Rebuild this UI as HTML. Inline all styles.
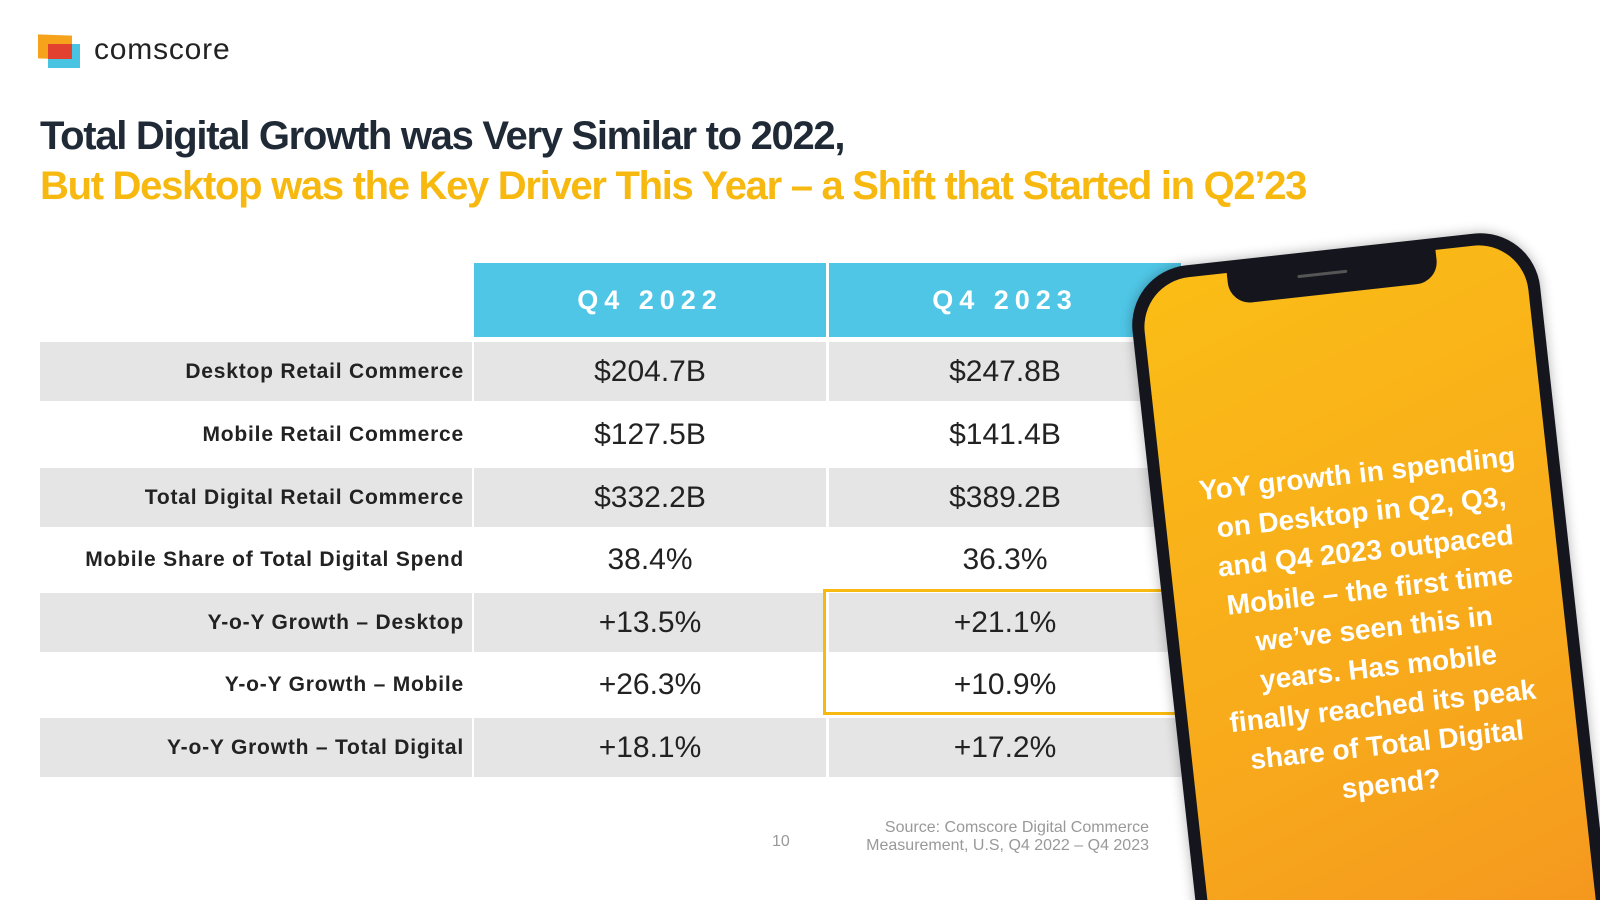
<!DOCTYPE html>
<html><head><meta charset="utf-8"><style>
html,body{margin:0;width:1600px;height:900px;overflow:hidden}
body{position:relative;background:#fff;font-family:"Liberation Sans",Arial,sans-serif}
#wrap{position:absolute;left:0;top:0;width:1600px;height:900px;overflow:hidden}
.a{position:absolute}
.t{font-weight:bold;font-size:40px;letter-spacing:-1.3px;left:40px}
.row{position:absolute;left:40px;width:1140px;height:59px}
.row.g .c{background:#e5e5e5}
.c{position:absolute;top:0;height:59px;line-height:59px}
.lab{left:0;width:424px;text-align:right;padding-right:8px;font-weight:bold;font-size:21px;color:#222;letter-spacing:0.8px}
.v1{left:434px;width:352px;text-align:center;font-size:30px;color:#222}
.v2{left:789px;width:352px;text-align:center;font-size:30px;color:#222}
</style></head><body>
<div id="wrap">
<div class="a" style="left:38px;top:33px;width:210px;height:40px">
 <div class="a" style="left:0;top:2px;width:34px;height:24px;background:#f7a21b;transform:skewY(2deg)"></div>
 <div class="a" style="left:10px;top:11px;width:32px;height:24px;background:#48c3e2"></div>
 <div class="a" style="left:10px;top:11px;width:24px;height:15px;background:#e2412f"></div>
 <div class="a" style="left:56px;top:0px;font-size:30px;color:#222;letter-spacing:0.8px">comscore</div>
</div>
<div class="a t" style="top:114px;color:#1f2a36">Total Digital Growth was Very Similar to 2022,</div>
<div class="a t" style="top:164px;color:#f7b90f">But Desktop was the Key Driver This Year – a Shift that Started in Q2’23</div>

<div class="a" style="left:474px;top:263px;width:352px;height:74px;background:#4fc6e6;color:#fff;font-weight:bold;font-size:27px;letter-spacing:6px;text-align:center;line-height:74px">Q4 2022</div>
<div class="a" style="left:829px;top:263px;width:352px;height:74px;background:#4fc6e6;color:#fff;font-weight:bold;font-size:27px;letter-spacing:6px;text-align:center;line-height:74px">Q4 2023</div>

<div class="row g" style="top:342px"><div class="c lab">Desktop Retail Commerce</div><div class="c v1">$204.7B</div><div class="c v2">$247.8B</div></div>
<div class="row" style="top:405px"><div class="c lab">Mobile Retail Commerce</div><div class="c v1">$127.5B</div><div class="c v2">$141.4B</div></div>
<div class="row g" style="top:468px"><div class="c lab">Total Digital Retail Commerce</div><div class="c v1">$332.2B</div><div class="c v2">$389.2B</div></div>
<div class="row" style="top:530px"><div class="c lab">Mobile Share of Total Digital Spend</div><div class="c v1">38.4%</div><div class="c v2">36.3%</div></div>
<div class="row g" style="top:593px"><div class="c lab">Y-o-Y Growth – Desktop</div><div class="c v1">+13.5%</div><div class="c v2">+21.1%</div></div>
<div class="row" style="top:655px"><div class="c lab">Y-o-Y Growth – Mobile</div><div class="c v1">+26.3%</div><div class="c v2">+10.9%</div></div>
<div class="row g" style="top:718px"><div class="c lab">Y-o-Y Growth – Total Digital</div><div class="c v1">+18.1%</div><div class="c v2">+17.2%</div></div>
<div class="a" style="left:823px;top:589px;width:350px;height:120px;border:3px solid #f7b90f"></div>

<div class="a" style="left:772px;top:833px;font-size:16px;color:#999">10</div>
<div class="a" style="left:840px;top:819px;width:309px;text-align:right;font-size:16px;color:#999;line-height:18px">Source: Comscore Digital Commerce Measurement, U.S, Q4 2022 – Q4 2023</div>

<div class="a" style="left:1126px;top:272px;width:410px;height:900px;background:#15161d;border-radius:60px;transform-origin:0 0;transform:rotate(-6.3deg);box-shadow:0 0 12px rgba(0,0,0,0.3)">
 <div class="a" style="left:12px;top:12px;right:12px;bottom:12px;border-radius:50px;background:linear-gradient(160deg,#fbbd16,#f7a71c 55%,#f38b21)"></div>
 <div class="a" style="left:100px;top:8px;width:210px;height:36px;background:#15161d;border-radius:0 0 22px 22px"></div>
 <div class="a" style="left:170px;top:22px;width:50px;height:3px;background:#555;border-radius:2px"></div>
 <div class="a" style="left:20px;top:206px;width:375px;text-align:center;color:#fff;font-weight:bold;font-size:28px;line-height:39px;white-space:nowrap">YoY growth in spending<br>on Desktop in Q2, Q3,<br>and Q4 2023 outpaced<br>Mobile – the first time<br>we’ve seen this in<br>years. Has mobile<br>finally reached its peak<br>share of Total Digital<br>spend?</div>
</div>
</div>
</body></html>
